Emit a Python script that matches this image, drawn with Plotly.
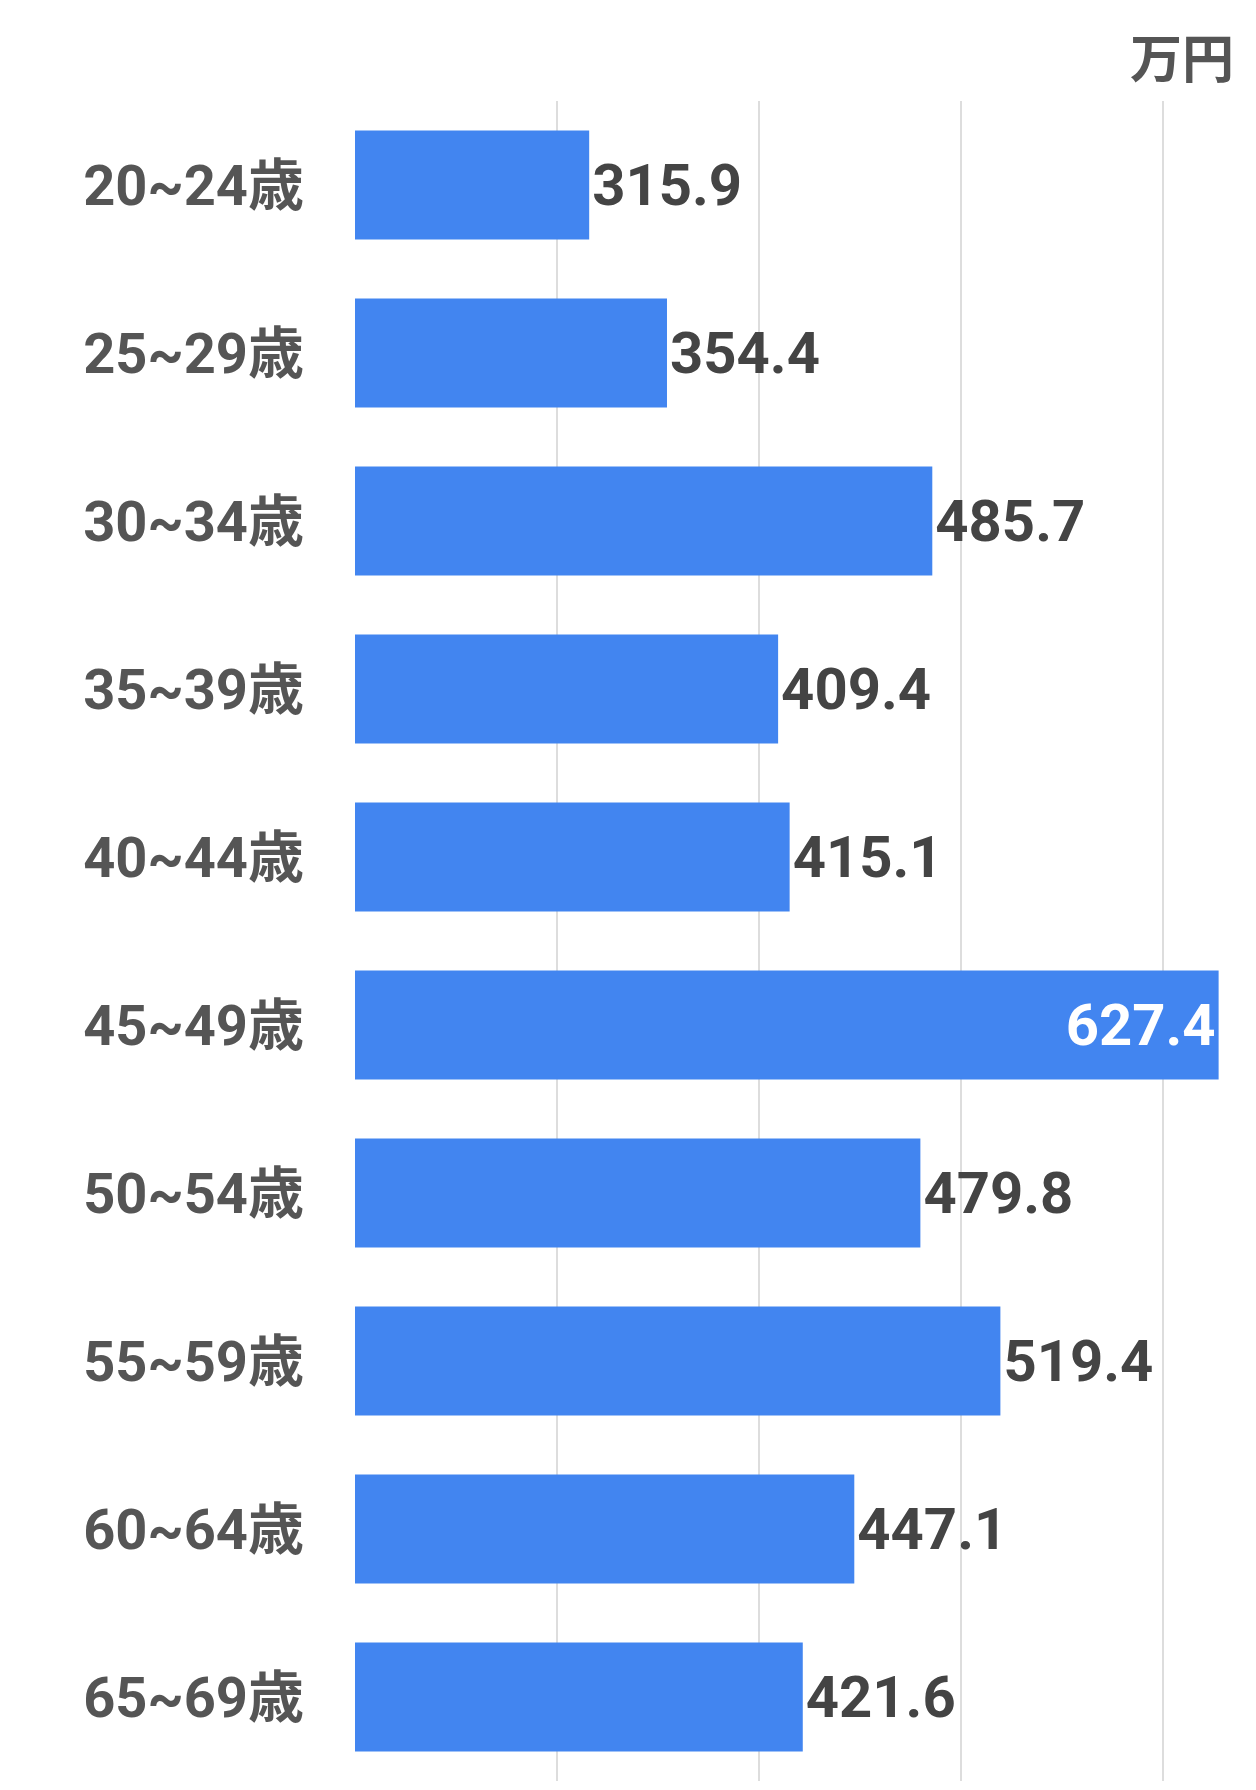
import plotly.graph_objects as go

categories = ["20~24歳","25~29歳","30~34歳","35~39歳","40~44歳","45~49歳","50~54歳","55~59歳","60~64歳","65~69歳"]
values = [315.9, 354.4, 485.7, 409.4, 415.1, 627.4, 479.8, 519.4, 447.1, 421.6]
labels = [f"{v:.1f}" for v in values]

maxv = max(values)
positions = ["inside" if v == maxv else "outside" for v in values]
colors = ["white" if v == maxv else "#444444" for v in values]

fig = go.Figure(go.Bar(
    y=categories, x=values, orientation="h",
    marker=dict(color="#4285f0", line=dict(width=0)),
    text=labels, textposition=positions, insidetextanchor="end",
    textfont=dict(size=58, color=colors, family="Roboto, Noto Sans CJK JP"),
    cliponaxis=False,
))
fig.update_layout(
    width=1256, height=1790,
    margin=dict(l=347, r=28, t=93, b=17),
    plot_bgcolor="white", paper_bgcolor="white",
    bargap=0.35, showlegend=False,
    font=dict(family="Roboto, Noto Sans CJK JP", weight="bold"),
    annotations=[dict(text="万円", x=1, y=1, xref="paper", yref="paper",
                      xanchor="right", yanchor="bottom", yshift=6, showarrow=False,
                      font=dict(size=52, color="#555555", family="Noto Sans CJK JP"))],
)
fig.update_xaxes(range=[200, 636], dtick=100, tick0=200, showgrid=True, gridcolor="#dddddd",
                 gridwidth=1.5, showticklabels=False, zeroline=False, showline=False)
fig.update_yaxes(autorange="reversed", ticks="", ticklabelstandoff=50,
                 tickfont=dict(size=56, color="#555555", family="Roboto, Noto Sans CJK JP", weight="bold"))
fig.write_html("out.html")
